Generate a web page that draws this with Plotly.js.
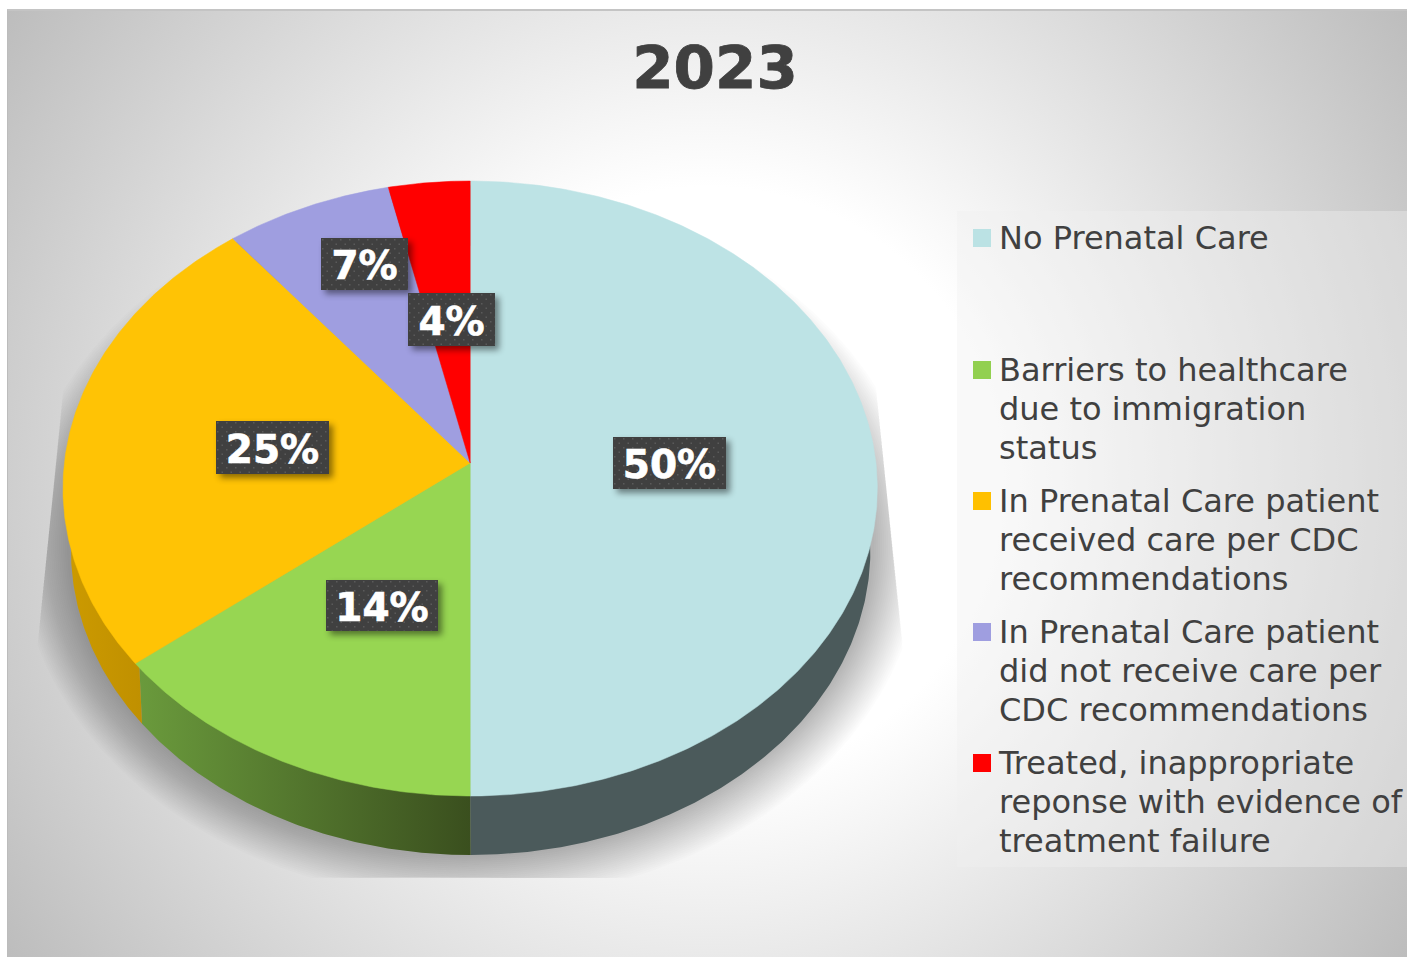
<!DOCTYPE html>
<html>
<head>
<meta charset="utf-8">
<script src="https://cdn.plot.ly/plotly-3.0.1.min.js"></script>
<style>
html,body{margin:0;padding:0;background:#fff;overflow:hidden}
#frame{position:absolute;left:7px;top:9px;width:1400px;height:948px;box-sizing:border-box;
 border-top:2px solid #c4c4c4;border-left:1px solid #bcbcbc;
 background:radial-gradient(circle 843px at 700px 471px,#fff 35%,#bdbdbd 100%)}
#chart{position:absolute;left:0;top:0;width:1407px;height:957px}
.annotation rect.bg{fill:url(#dots)!important;filter:drop-shadow(4px 4px 3px rgba(0,0,0,.45))}
.annotation text{translate:0 1.5px;stroke:#fff;stroke-width:.7px}
.gtitle{stroke:#404040;stroke-width:.8px;translate:0 -1px}
</style>
</head>
<body>
<div id="frame"></div>
<svg width="0" height="0" style="position:absolute"><defs>
<pattern id="dots" width="9" height="9" patternUnits="userSpaceOnUse">
<rect width="9" height="9" fill="#404040"/>
<rect x="1" y="1" width="1.5" height="1.5" fill="#5a5a5a"/>
<rect x="5.5" y="5.5" width="1.5" height="1.5" fill="#5a5a5a"/>
</pattern></defs></svg>
<div id="chart"></div>
<script>
// ---- data ----
const categories = [
  "No Prenatal Care",
  "Barriers to healthcare<br>due to immigration<br>status",
  "In Prenatal Care patient<br>received care per CDC<br>recommendations",
  "In Prenatal Care patient<br>did not receive care per<br>CDC recommendations",
  "Treated, inappropriate<br>reponse with evidence of<br>treatment failure"
];
const shares = [50, 14.3, 25, 7.2, 3.5];
const legendPadding = ["<br> <br> ", "", "", "", ""];
const chartTitle = "2023";

// ---- styles ----
const faceColors = ["#BDE3E5", "#97D652", "#FFC305", "#9F9EE0", "#FF0000"];
const keyColors  = ["#BBE2E4", "#92D050", "#FFC000", "#9F9EE0", "#FF0000"];
const wallColors = [
  [[0,"#4B5A5B"],[1,"#4B5A5B"]],
  [[0,"#6A9A3C"],[1,"#3A4F1E"]],
  [[0,"#CC9A00"],[1,"#B08300"]],
  [[0,"#5E5D8A"],[1,"#5E5D8A"]],
  [[0,"#990000"],[1,"#990000"]]
];
const labelCentres = [[669.5,463],[382,605.5],[272.5,447.5],[364.5,264],[451.5,319.5]];
const labelSizes = [[113,52],[112,51],[113,53],[87,52],[87,53]];
const keyCentres = [238,370,501,632,763];

// ---- projection of the tilted disc ----
const top_ = {cx:470.5, cy:488.5, rx:407.5, ry:307.5};
const inner = {cx:470.5, cy:488.5, rx:403, ry:303};
const bot_ = {cx:471, cy:550.4, rx:400, ry:304.6};
const tilt = -0.083;
function project(deg, e){
  const t = deg*Math.PI/180, u = Math.sin(t), v = -Math.cos(t);
  const d = 1 + tilt*v;
  return [e.cx + e.rx*u*Math.sqrt(1-tilt*tilt)/d, e.cy + e.ry*(v+tilt)/d];
}
function arc(a, b, e){
  const n = Math.max(2, Math.ceil(Math.abs(b-a)*2)), out = [];
  for(let i=0;i<=n;i++) out.push(project(a+(b-a)*i/n, e));
  return out;
}
const total = shares.reduce((s,v)=>s+v,0);
let run = 0;
const spans = shares.map(v=>{const a=run; run+=v; return [a/total*360, run/total*360];});

const traces = [];
const flat = {hoverinfo:"skip", showlegend:false, mode:"lines", fill:"toself", type:"scatter"};

// soft shadow under the disc, cut by a trapezoid
function clampShadow(p){
  let y = Math.min(p[1],878);
  const l = Math.max(37, 62-(y-400)*0.1), r = Math.min(904, 878+(y-400)*0.104);
  return [Math.min(r,Math.max(l,p[0])), y];
}
for(let d=52;d>=4;d-=2){
  const e = {cx:bot_.cx, cy:bot_.cy-6, rx:bot_.rx+d, ry:bot_.ry+d};
  const pts = arc(0,360,e).map(clampShadow);
  traces.push(Object.assign({},flat,{x:pts.map(p=>p[0]),y:pts.map(p=>p[1]),
    line:{width:0,color:"rgba(0,0,0,0)"},fillcolor:"rgba(0,0,0,0.0115)"}));
}
// side wall
spans.forEach((s,i)=>{
  const pts = arc(s[0],s[1],inner).concat(arc(s[1],s[0],bot_));
  traces.push(Object.assign({},flat,{x:pts.map(p=>p[0]),y:pts.map(p=>p[1]),
    line:{width:0,color:wallColors[i][0][1]},
    fillcolor:wallColors[i][0][1],
    fillgradient:{type:"horizontal",colorscale:wallColors[i]}}));
});
// top face
spans.forEach((s,i)=>{
  const apex = [top_.cx, top_.cy + top_.ry*tilt];
  const pts = [apex].concat(arc(s[0],s[1],top_)).concat([apex]);
  traces.push(Object.assign({},flat,{x:pts.map(p=>p[0]),y:pts.map(p=>p[1]),
    line:{width:0.5,color:faceColors[i]},fillcolor:faceColors[i]}));
});
// legend keys
categories.forEach((c,i)=>{
  traces.push({type:"scatter",mode:"markers",x:[null],y:[null],name:c+legendPadding[i],
    hoverinfo:"skip",marker:{symbol:"square",size:16,color:keyColors[i],line:{width:2,color:keyColors[i]}}});
});

const annotations = shares.map((v,i)=>({
  x:labelCentres[i][0], y:labelCentres[i][1], xref:"x", yref:"y",
  text:"<b>"+Math.round(v)+"%</b>", showarrow:false,
  width:labelSizes[i][0], height:labelSizes[i][1], borderpad:0, borderwidth:0,
  bgcolor:"#404040", xanchor:"center", yanchor:"middle",
  font:{family:"DejaVu Sans",size:39,color:"#fff"}
}));

const layout = {
  width:1407, height:957, margin:{l:0,r:0,t:0,b:0},
  paper_bgcolor:"rgba(0,0,0,0)", plot_bgcolor:"rgba(0,0,0,0)",
  xaxis:{range:[0,1407],visible:false,fixedrange:true},
  yaxis:{range:[957,0],visible:false,fixedrange:true},
  title:{text:"<b>"+chartTitle+"</b>",x:715/1407,xanchor:"center",y:1-68/957,yanchor:"middle",
    font:{family:"DejaVu Sans",size:59.5,color:"#404040"}},
  showlegend:true,
  legend:{x:958/1407,xanchor:"left",y:1-211/957,yanchor:"top",valign:"top",
    bgcolor:"rgba(240,240,240,0.4)",borderwidth:0,itemclick:false,itemdoubleclick:false,
    font:{family:"DejaVu Sans",size:32,color:"#404040"}},
  annotations:annotations
};
Plotly.newPlot("chart",traces,layout,{displayModeBar:false,staticPlot:true}).then(()=>{
  document.querySelectorAll(".legend tspan.line").forEach(t=>{
    const d = parseFloat(t.getAttribute("dy")||"0");
    t.setAttribute("dy",(d*0.9375)+"em");
  });
  // set each legend row on the spacing of the reference
  const bg = document.querySelector(".legend rect.bg");
  const legendHeight = 656;
  bg.setAttribute("height",legendHeight);
  document.querySelectorAll('clipPath[id^="legend"] rect').forEach(r=>r.setAttribute("height",legendHeight));
  const rows = [...document.querySelectorAll(".legend .traces")];
  rows.forEach((g,i)=>{
    const pt = g.querySelector(".legendpoints path").getBoundingClientRect();
    const now = pt.top + pt.height/2;
    const m = /translate\(([-\d.]+),\s*([-\d.]+)\)/.exec(g.getAttribute("transform"));
    g.setAttribute("transform","translate("+(parseFloat(m[1])+2)+","+(parseFloat(m[2])+keyCentres[i]-now)+")");
    g.querySelector(".legendpoints").setAttribute("transform","translate(3,0)");
    g.querySelector("text.legendtext").style.translate = "0 -1.5px";
  });
});
</script>
</body>
</html>
